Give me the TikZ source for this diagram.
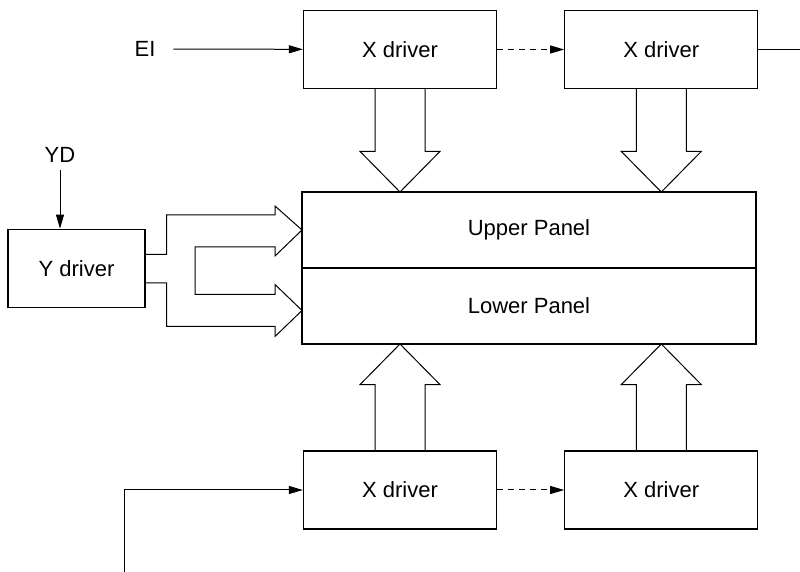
\documentclass[tikz,border=0pt]{standalone}
\usepackage{fontspec}
\setmainfont{Liberation Sans}
\usetikzlibrary{arrows.meta,positioning,calc}

\begin{document}
\begin{tikzpicture}[x=0.5pt,y=-0.5pt,>={Triangle[length=7pt,width=4pt]},
                    font=\fontsize{11}{13}\selectfont,
                    drv/.style={draw,line width=.65pt,minimum width=96.5pt,minimum height=39pt},
                    pnl/.style={draw,line width=.65pt,outer sep=0pt,minimum width=227pt,minimum height=38pt},
                    fat/.style={draw,line width=.5pt,line join=miter},
                    wire/.style={line width=.5pt}]
% \tikzstyle{every node}=[draw=none]
\useasboundingbox (0,0) rectangle (800,572);

 \node [drv]  (xu1) at (400,49.5) {X driver};
 \node [drv]  (xu2) [right=33.5pt of xu1] {X driver};
 \node [pnl]  (up) at (529,230) {Upper Panel};
 \node [pnl]  (lo) [below=0pt of up] {Lower Panel};
 \node [drv]  (xl1) at (400,490) {X driver};
 \node [drv]  (xl2) [right=33.5pt of xl1] {X driver};
 \node [drv,minimum width=68.5pt] (yd) at (76.5,268.3) {Y driver};

 \node (ei) at (145,49) {EI};
 \node (ydin) at (60,155) {YD};
 \coordinate (xout) at (800,49.5);
 \coordinate (xin) at (124,572);

% thin wires
 \draw [wire,->,shorten <=5.5pt] (ei) -- (xu1);
 \draw [wire,->,dashed,dash pattern=on 3pt off 2.5pt] (xu1) -- (xu2);
 \draw [wire] (xu2) -- (xout);
 \draw [wire,->] (ydin) -- (ydin |- yd.north);
 \draw [wire,->] (xin) |- (xl1);
 \draw [wire,->,dashed,dash pattern=on 3pt off 2.5pt] (xl1) -- (xl2);

% big arrows into the panel
 \foreach \n in {xu1,xu2}
   \draw [fat] ($(\n.south)+(-25,0)$) |- ($(\n |- up.north)+(-40,-40.6)$)
        -- (\n |- up.north) -- ++(40,-40.6) -| ($(\n.south)+(25,0)$);
 \foreach \n in {xl1,xl2}
   \draw [fat] ($(\n.north)+(-25,0)$) |- ($(\n |- lo.south)+(-40,40.6)$)
        -- (\n |- lo.south) -- ++(40,40.6) -| ($(\n.north)+(25,0)$);

% Y driver split arrow
 \draw [fat] ($(yd.east)+(0,-14)$) -- ++(21,0) |- ($(up.west)+(-27,-15)$)
        -- ++(0,-9) -- (up.west) -- ++(-27,26) -- ++(0,-9) -- ++(-80,0)
        |- ($(lo.west)+(-27,-11.5)$) -- ++(0,-10) -- ($(lo.west)+(0,4.5)$)
        -- ++(-27,26) -- ++(0,-10) -| ($(yd.east)+(21,14.7)$) -- ++(-21,0);

\end{tikzpicture}
\end{document}
